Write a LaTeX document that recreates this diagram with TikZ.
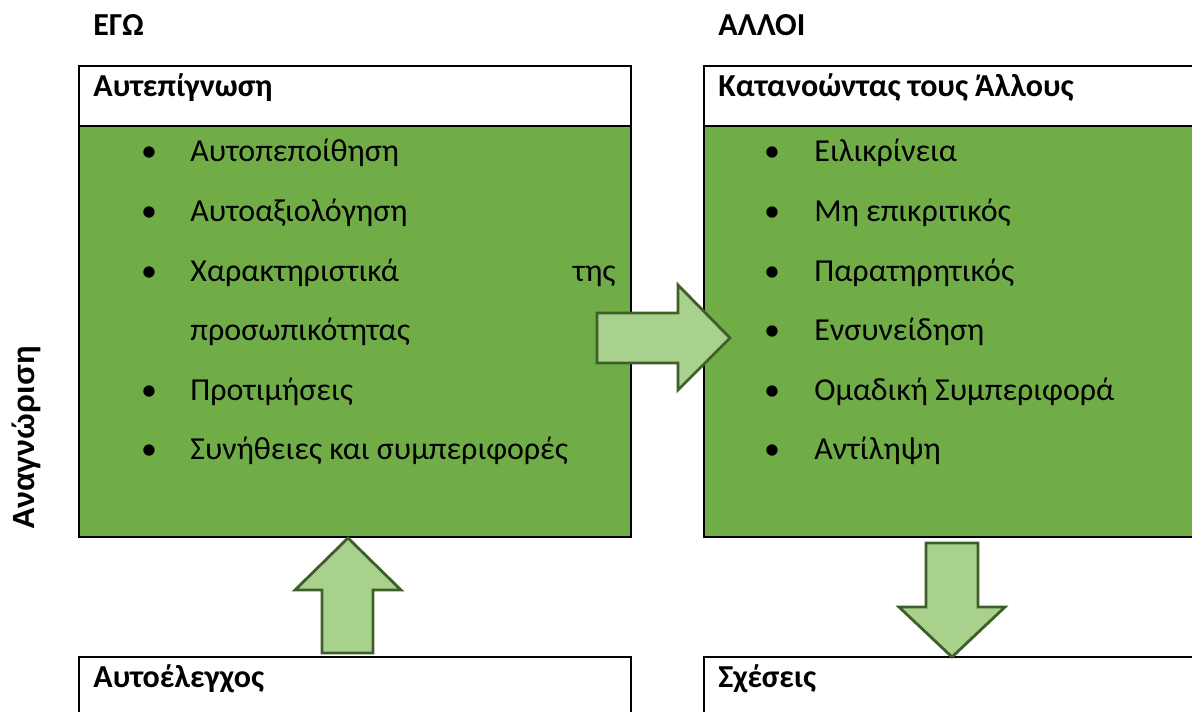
\documentclass[tikz,border=0pt]{standalone}
\usepackage{fontspec}
\setmainfont{Carlito}
\newfontfamily\arialfont{Liberation Sans}
\definecolor{boxgreen}{HTML}{70AD47}
\definecolor{arrowfill}{HTML}{A9D18E}
\definecolor{arrowline}{HTML}{3E5F2A}
\begin{document}
\begin{tikzpicture}[x=0.5pt,y=-0.5pt,
  frame/.style={draw=black,line width=1.3pt},
  blockarrow/.style={draw=arrowline,fill=arrowfill,line width=1.4pt,line join=miter},
  body/.style={anchor=base west,inner sep=0pt,font=\fontsize{16}{19}\selectfont},
  bul/.style={anchor=base,inner sep=0pt,font=\fontsize{16}{19}\selectfont},
  head/.style={anchor=base west,inner sep=0pt,font=\fontsize{16}{19}\selectfont\bfseries}]
\useasboundingbox (0,0) rectangle (1192,711);
\clip (0,0) rectangle (1192,711);
% left top box
\fill[boxgreen] (79,126) rectangle (631,537);
\draw[frame] (79,66) rectangle (631,537);
\draw[frame] (79,126) -- (631,126);
% right top box
\fill[boxgreen] (704,126) rectangle (1210,537);
\draw[frame] (1210,66) -- (704,66) -- (704,537) -- (1210,537);
\draw[frame] (704,126) -- (1210,126);
% bottom boxes
\draw[frame] (79,730) -- (79,657) -- (631,657) -- (631,730);
\draw[frame] (704,730) -- (704,657) -- (1210,657);
% titles
\node[head] (ego) at (93,36) {ΕΓΩ};
\node[head] (alloi) at (718,36) {ΑΛΛΟΙ};
\node[head] (h1) at (93,97) {Αυτεπίγνωση};
\node[head] (h2) at (718,97) {Κατανοώντας τους Άλλους};
\node[head] (h3) at (93,687) {Αυτοέλεγχος};
\node[head] (h4) at (718,687) {Σχέσεις};
% left list
\foreach \y/\t in {162/Αυτοπεποίθηση,221.5/Αυτοαξιολόγηση,281/Χαρακτηριστικά,400/Προτιμήσεις,459.5/Συνήθειες και συμπεριφορές}{
  \node[bul] at (149,\y) {•};
  \node[body] at (190,\y) {\t};
}
\node[anchor=base east,inner sep=0pt,font=\fontsize{16}{19}\selectfont] (tis) at (616,281) {της};
\node[body] (pros) at (190,340.5) {προσωπικότητας};
% right list
\foreach \y/\t in {162/Ειλικρίνεια,221.5/Μη επικριτικός,281/Παρατηρητικός,340.5/Ενσυνείδηση,400/Ομαδική Συμπεριφορά,459.5/Αντίληψη}{
  \node[bul] at (772,\y) {•};
  \node[body] at (814,\y) {\t};
}
% vertical label
\node[rotate=90,inner sep=0pt,font=\arialfont\bfseries\fontsize{15.3}{18}\selectfont] (anag) at (26,438) {Αναγνώριση};
% block arrows
\draw[blockarrow] (597,313) -- (678,313) -- (678,285) -- (730,338) -- (678,390) -- (678,363) -- (597,363) -- cycle;
\draw[blockarrow] (322,653) -- (322,590) -- (295,590) -- (348,538) -- (401,590) -- (373,590) -- (373,653) -- cycle;
\draw[blockarrow] (926,543) -- (978,543) -- (978,607) -- (1005,607) -- (952,657) -- (899,607) -- (926,607) -- cycle;
\end{tikzpicture}
\end{document}
